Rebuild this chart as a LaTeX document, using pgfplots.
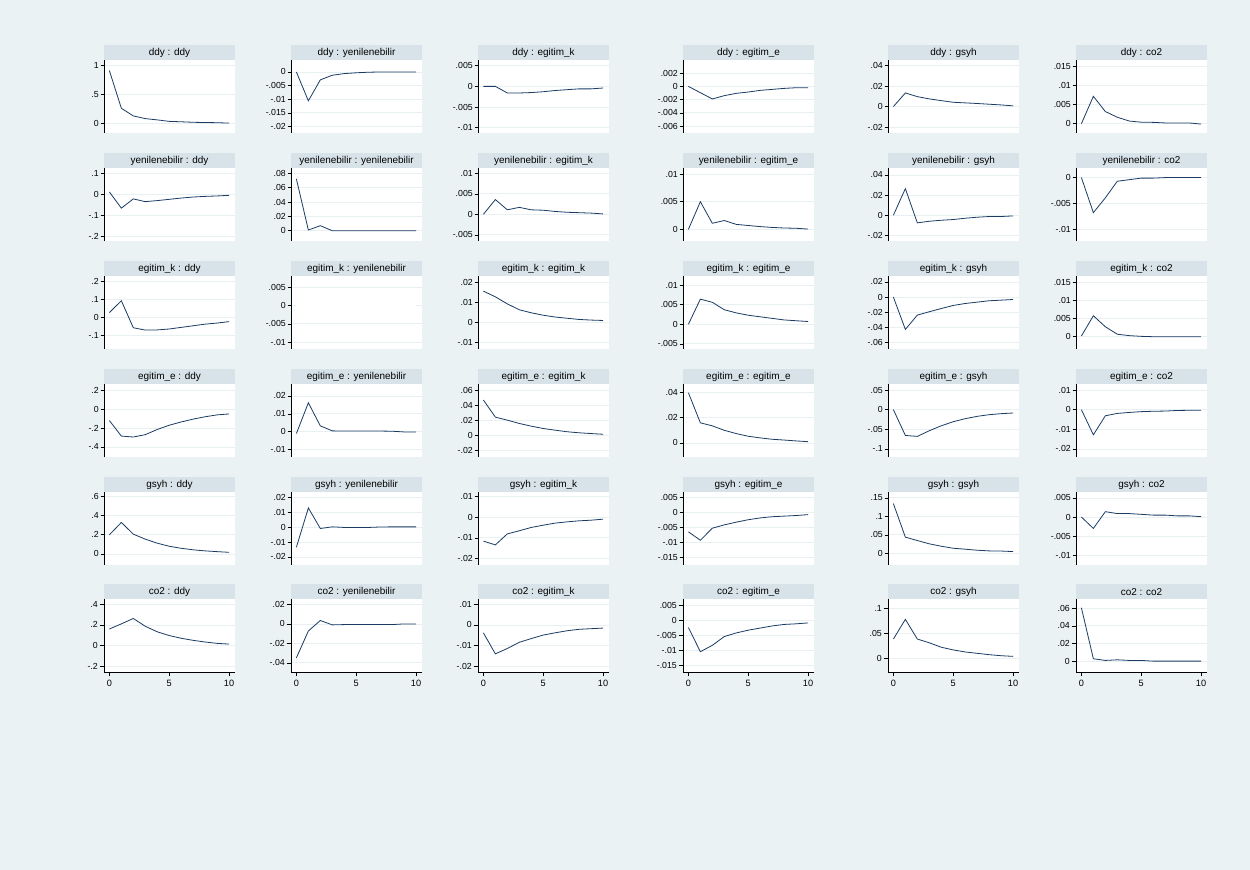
\documentclass[border=0pt]{standalone}
\usepackage{fontspec}
\setmainfont{Liberation Sans}
\usepackage{pgfplots}
\pgfplotsset{compat=1.18}

\definecolor{bgc}{RGB}{234,242,243}
\definecolor{gridc}{RGB}{232,240,242}
\definecolor{barc}{RGB}{216,227,233}
\definecolor{navy}{RGB}{26,60,100}

\pgfplotsset{
  irf/.style={
    scale only axis, width=131bp, height=73bp,
    xmin=-0.45, xmax=10.5,
    axis y line*=left, axis x line*=bottom,
    axis line style={-, black, line width=0.7bp},
    tick align=outside, major tick length=3.5bp,
    tick style={black, line width=0.6bp},
    ymajorgrids, grid style={gridc, line width=0.8bp},
    axis background/.style={fill=white},
    scaled y ticks=false,
    yticklabel style={font=\fontsize{8.8}{10}\selectfont, inner sep=1.5bp},
    every axis title/.style={at={(0,1)}, anchor=south west, fill=barc,
      minimum width=131bp, minimum height=14.5bp, inner sep=0pt, outer sep=0pt,
      font=\fontsize{10}{12}\selectfont},
  },
  nox/.style={xtick=\empty, x axis line style={draw=none}},
  bottomrow/.style={
    xtick={0,5,10}, xticklabels={0,5,10}, major tick length=4.5bp,
    xticklabel style={font=\fontsize{9.2}{10}\selectfont, inner sep=3.5bp},
  },
}

% #1 extra options, #2 left, #3 bottom, #4 title, #5 ymin, #6 ymax, #7 ticks, #8 tick labels, #9 data
\newcommand\panel[9][nox]{%
\begin{axis}[irf, #1, at={(#2bp,#3bp)}, anchor=south west, title={#4},
  ymin=#5, ymax=#6, ytick={#7}, yticklabels={#8}]
\addplot[navy, line width=0.8bp] coordinates {#9};
\end{axis}}

\begin{document}
\begin{tikzpicture}[x=1bp,y=1bp]
\fill[bgc] (0,0) rectangle (1250,870);

% row 1
\panel{104}{737}{ddy : ddy}{-0.17}{1.1}{0,0.5,1}{0,.5,1}
{(0,0.915)(1,0.26)(2,0.127)(3,0.08)(4,0.058)(5,0.032)(6,0.025)(7,0.016)(8,0.012)(9,0.009)(10,0.002)}
\panel{291}{737}{ddy : yenilenebilir}{-0.0224}{0.0044}{-0.02,-0.015,-0.01,-0.005,0}{-.02,-.015,-.01,-.005,0}
{(0,0)(1,-0.0106)(2,-0.0029)(3,-0.0012)(4,-0.0006)(5,-0.0003)(6,-0.0001)(7,0)(8,0)(9,0)(10,0)}
\panel{478}{737}{ddy : egitim\_k}{-0.0113}{0.0064}{-0.01,-0.005,0,0.005}{-.01,-.005,0,.005}
{(0,0)(1,0)(2,-0.0016)(3,-0.0016)(4,-0.0015)(5,-0.0013)(6,-0.001)(7,-0.0008)(8,-0.0006)(9,-0.0006)(10,-0.0004)}
\panel{683}{737}{ddy : egitim\_e}{-0.00705}{0.004}{-0.006,-0.004,-0.002,0,0.002}{-.006,-.004,-.002,0,.002}
{(0,0)(1,-0.00095)(2,-0.0019)(3,-0.0014)(4,-0.00105)(5,-0.00085)(6,-0.0006)(7,-0.00045)(8,-0.0003)(9,-0.0002)(10,-0.0002)}
\panel{888}{737}{ddy : gsyh}{-0.0258}{0.0455}{-0.02,0,0.02,0.04}{-.02,0,.02,.04}
{(0,0)(1,0.0133)(2,0.0097)(3,0.0075)(4,0.0058)(5,0.0042)(6,0.0036)(7,0.003)(8,0.0023)(9,0.0016)(10,0.0007)}
\panel{1076}{737}{ddy : co2}{-0.00244}{0.01675}{0,0.005,0.01,0.015}{0,.005,.01,.015}
{(0,0)(1,0.0072)(2,0.0032)(3,0.0017)(4,0.0007)(5,0.0004)(6,0.00035)(7,0.0002)(8,0.0002)(9,0.0002)(10,-0.0001)}

% row 2
\panel{104}{629}{yenilenebilir : ddy}{-0.222}{0.125}{-0.2,-0.1,0,0.1}{-.2,-.1,0,.1}
{(0,0.011)(1,-0.066)(2,-0.022)(3,-0.035)(4,-0.03)(5,-0.024)(6,-0.018)(7,-0.013)(8,-0.01)(9,-0.008)(10,-0.005)}
\panel{291}{629}{yenilenebilir : yenilenebilir}{-0.0143}{0.0874}{0,0.02,0.04,0.06,0.08}{0,.02,.04,.06,.08}
{(0,0.0721)(1,0.001)(2,0.007)(3,0)(4,0)(5,0)(6,0)(7,0)(8,0)(9,0)(10,0)}
\panel{478}{629}{yenilenebilir : egitim\_k}{-0.0065}{0.0113}{-0.005,0,0.005,0.01}{-.005,0,.005,.01}
{(0,0)(1,0.0036)(2,0.0011)(3,0.0017)(4,0.0011)(5,0.001)(6,0.0007)(7,0.0005)(8,0.0004)(9,0.0003)(10,0.0001)}
\panel{683}{629}{yenilenebilir : egitim\_e}{-0.0021}{0.0111}{0,0.005,0.01}{0,.005,.01}
{(0,0)(1,0.005)(2,0.0011)(3,0.0016)(4,0.0009)(5,0.0007)(6,0.0005)(7,0.00035)(8,0.00025)(9,0.0002)(10,0.00005)}
\panel{888}{629}{yenilenebilir : gsyh}{-0.0256}{0.0469}{-0.02,0,0.02,0.04}{-.02,0,.02,.04}
{(0,0)(1,0.0264)(2,-0.0076)(3,-0.006)(4,-0.005)(5,-0.0043)(6,-0.003)(7,-0.002)(8,-0.0013)(9,-0.0013)(10,-0.0007)}
\panel{1076}{629}{yenilenebilir : co2}{-0.0122}{0.00185}{-0.01,-0.005,0}{-.01,-.005,0}
{(0,0)(1,-0.00675)(2,-0.0039)(3,-0.0007)(4,-0.0004)(5,-0.0001)(6,-0.0001)(7,0)(8,0)(9,0)(10,0)}

% row 3
\panel{104}{521}{egitim\_k : ddy}{-0.174}{0.2315}{-0.1,0,0.1,0.2}{-.1,0,.1,.2}
{(0,0.028)(1,0.094)(2,-0.056)(3,-0.069)(4,-0.068)(5,-0.063)(6,-0.054)(7,-0.045)(8,-0.036)(9,-0.03)(10,-0.022)}
% this response is flat: its line is drawn white in the reference
\begin{axis}[irf, nox, at={(291bp,521bp)}, anchor=south west, title={egitim\_k : yenilenebilir},
  ymin=-0.0119, ymax=0.0081, ytick={-0.01,-0.005,0,0.005}, yticklabels={-.01,-.005,0,.005}]
\addplot[white, line width=0.8bp] coordinates {(0,0)(1,0)(2,0)(3,0)(4,0)(5,0)(6,0)(7,0)(8,0)(9,0)(10,0)};
\end{axis}
\panel{478}{521}{egitim\_k : egitim\_k}{-0.0131}{0.023}{-0.01,0,0.01,0.02}{-.01,0,.01,.02}
{(0,0.0155)(1,0.0127)(2,0.0092)(3,0.0063)(4,0.0048)(5,0.0036)(6,0.0027)(7,0.0021)(8,0.0015)(9,0.0012)(10,0.001)}
\panel{683}{521}{egitim\_k : egitim\_e}{-0.0063}{0.0123}{-0.005,0,0.005,0.01}{-.005,0,.005,.01}
{(0,0)(1,0.0064)(2,0.0056)(3,0.0037)(4,0.0029)(5,0.0023)(6,0.0019)(7,0.0015)(8,0.0011)(9,0.0009)(10,0.0007)}
\panel{888}{521}{egitim\_k : gsyh}{-0.0684}{0.0279}{-0.06,-0.04,-0.02,0,0.02}{-.06,-.04,-.02,0,.02}
{(0,0)(1,-0.0426)(2,-0.0237)(3,-0.0193)(4,-0.015)(5,-0.011)(6,-0.0084)(7,-0.0066)(8,-0.0048)(9,-0.004)(10,-0.0031)}
\panel{1076}{521}{egitim\_k : co2}{-0.00366}{0.0169}{0,0.005,0.01,0.015}{0,.005,.01,.015}
{(0,0)(1,0.0057)(2,0.0026)(3,0.0005)(4,0.0001)(5,-0.0001)(6,-0.0002)(7,-0.0002)(8,-0.0002)(9,-0.0002)(10,-0.0002)}

% row 4
\panel{104}{413}{egitim\_e : ddy}{-0.507}{0.268}{-0.4,-0.2,0,0.2}{-.4,-.2,0,.2}
{(0,-0.12)(1,-0.285)(2,-0.295)(3,-0.27)(4,-0.215)(5,-0.17)(6,-0.135)(7,-0.105)(8,-0.08)(9,-0.06)(10,-0.05)}
\panel{291}{413}{egitim\_e : yenilenebilir}{-0.0141}{0.0267}{-0.01,0,0.01,0.02}{-.01,0,.01,.02}
{(0,-0.001)(1,0.0162)(2,0.0033)(3,0.0005)(4,0.0004)(5,0.0004)(6,0.0004)(7,0.0004)(8,0.0003)(9,-0.0001)(10,-0.0001)}
\panel{478}{413}{egitim\_e : egitim\_k}{-0.0289}{0.068}{-0.02,0,0.02,0.04,0.06}{-.02,0,.02,.04,.06}
{(0,0.0467)(1,0.024)(2,0.02)(3,0.0156)(4,0.012)(5,0.0089)(6,0.0067)(7,0.0046)(8,0.0032)(9,0.0022)(10,0.0013)}
\panel{683}{413}{egitim\_e : egitim\_e}{-0.0111}{0.0466}{0,0.02,0.04}{0,.02,.04}
{(0,0.0397)(1,0.0159)(2,0.0135)(3,0.01)(4,0.0074)(5,0.0053)(6,0.004)(7,0.0029)(8,0.0023)(9,0.0016)(10,0.001)}
\panel{888}{413}{egitim\_e : gsyh}{-0.1204}{0.0653}{-0.1,-0.05,0,0.05}{-.1,-.05,0,.05}
{(0,0)(1,-0.0656)(2,-0.068)(3,-0.0536)(4,-0.041)(5,-0.0307)(6,-0.023)(7,-0.017)(8,-0.0128)(9,-0.0102)(10,-0.0085)}
\panel{1076}{413}{egitim\_e : co2}{-0.0241}{0.0131}{-0.02,-0.01,0,0.01}{-.02,-.01,0,.01}
{(0,0)(1,-0.0128)(2,-0.0031)(3,-0.0019)(4,-0.0014)(5,-0.001)(6,-0.0008)(7,-0.0007)(8,-0.0004)(9,-0.0003)(10,-0.0003)}

% row 5
\panel{104}{305}{gsyh : ddy}{-0.115}{0.645}{0,0.2,0.4,0.6}{0,.2,.4,.6}
{(0,0.199)(1,0.328)(2,0.206)(3,0.154)(4,0.112)(5,0.08)(6,0.059)(7,0.043)(8,0.032)(9,0.024)(10,0.017)}
\panel{291}{305}{gsyh : yenilenebilir}{-0.0254}{0.0236}{-0.02,-0.01,0,0.01,0.02}{-.02,-.01,0,.01,.02}
{(0,-0.0135)(1,0.0129)(2,-0.0009)(3,0.0002)(4,-0.0002)(5,-0.0002)(6,-0.0002)(7,0.0001)(8,0.0002)(9,0.0002)(10,0.0002)}
\panel{478}{305}{gsyh : egitim\_k}{-0.0231}{0.0121}{-0.02,-0.01,0,0.01}{-.02,-.01,0,.01}
{(0,-0.0116)(1,-0.0134)(2,-0.0081)(3,-0.0066)(4,-0.005)(5,-0.0039)(6,-0.0029)(7,-0.0023)(8,-0.0018)(9,-0.0015)(10,-0.001)}
\panel{683}{305}{gsyh : egitim\_e}{-0.0174}{0.0068}{-0.015,-0.01,-0.005,0,0.005}{-.015,-.01,-.005,0,.005}
{(0,-0.0064)(1,-0.0092)(2,-0.0052)(3,-0.0041)(4,-0.0032)(5,-0.0024)(6,-0.0018)(7,-0.0014)(8,-0.0012)(9,-0.001)(10,-0.0007)}
\panel{888}{305}{gsyh : gsyh}{-0.0318}{0.166}{0,0.05,0.1,0.15}{0,.05,.1,.15}
{(0,0.1345)(1,0.0436)(2,0.0345)(3,0.0255)(4,0.019)(5,0.0136)(6,0.011)(7,0.0082)(8,0.0064)(9,0.006)(10,0.0045)}
\panel{1076}{305}{gsyh : co2}{-0.0126}{0.00657}{-0.01,-0.005,0,0.005}{-.01,-.005,0,.005}
{(0,0)(1,-0.003)(2,0.0014)(3,0.0009)(4,0.0009)(5,0.0007)(6,0.0005)(7,0.0005)(8,0.0003)(9,0.0003)(10,0.0001)}

% row 6
\panel[bottomrow]{104}{198}{co2 : ddy}{-0.252}{0.449}{-0.2,0,0.2,0.4}{-.2,0,.2,.4}
{(0,0.161)(1,0.21)(2,0.262)(3,0.187)(4,0.134)(5,0.098)(6,0.072)(7,0.052)(8,0.036)(9,0.023)(10,0.016)}
\panel[bottomrow]{291}{198}{co2 : yenilenebilir}{-0.0494}{0.0256}{-0.04,-0.02,0,0.02}{-.04,-.02,0,.02}
{(0,-0.0349)(1,-0.0073)(2,0.0035)(3,-0.001)(4,-0.0007)(5,-0.0007)(6,-0.0007)(7,-0.0007)(8,-0.0007)(9,0)(10,0)}
\panel[bottomrow]{478}{198}{co2 : egitim\_k}{-0.0228}{0.0126}{-0.02,-0.01,0,0.01}{-.02,-.01,0,.01}
{(0,-0.0038)(1,-0.014)(2,-0.0114)(3,-0.0084)(4,-0.0066)(5,-0.0049)(6,-0.0038)(7,-0.0028)(8,-0.0021)(9,-0.0018)(10,-0.0015)}
\panel[bottomrow]{683}{198}{co2 : egitim\_e}{-0.0171}{0.007}{-0.015,-0.01,-0.005,0,0.005}{-.015,-.01,-.005,0,.005}
{(0,-0.0024)(1,-0.0104)(2,-0.0083)(3,-0.0054)(4,-0.0042)(5,-0.0033)(6,-0.0026)(7,-0.0019)(8,-0.0014)(9,-0.0012)(10,-0.0009)}
\panel[bottomrow]{888}{198}{co2 : gsyh}{-0.0272}{0.119}{0,0.05,0.1}{0,.05,.1}
{(0,0.0388)(1,0.0782)(2,0.0388)(3,0.0313)(4,0.0224)(5,0.017)(6,0.0129)(7,0.0102)(8,0.0075)(9,0.0054)(10,0.0041)}
\panel[bottomrow]{1076}{198}{co2 : co2}{-0.0123}{0.0704}{0,0.02,0.04,0.06}{0,.02,.04,.06}
{(0,0.0604)(1,0.0027)(2,0.0008)(3,0.0015)(4,0.0008)(5,0.0008)(6,0)(7,0)(8,0)(9,0)(10,0)}
\end{tikzpicture}
\end{document}
